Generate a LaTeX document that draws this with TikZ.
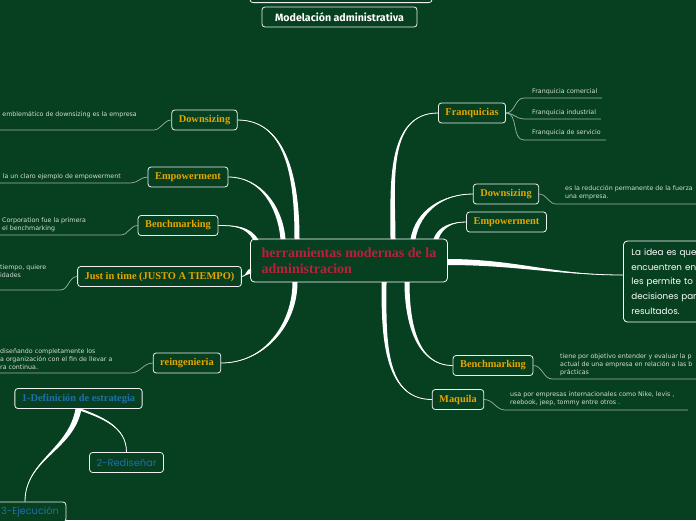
\documentclass[tikz,border=0pt]{standalone}
\usepackage{fontspec}
\setmainfont{Liberation Serif}
\newfontfamily\leaffont{DejaVu Sans}
\newfontfamily\tagfont{Fira Sans}
\newfontfamily\handfont{Poppins}
\usetikzlibrary{calc}

\definecolor{boardG}{HTML}{064020}
\definecolor{goldT}{HTML}{E6A500}
\definecolor{crimT}{HTML}{BE1E3C}
\definecolor{blueT}{HTML}{1F6FAE}
\definecolor{leafT}{HTML}{D6DCD6}
\definecolor{twigC}{HTML}{9DB3A5}

% tapered branch: start, end, out, in, half width
\newcommand{\limb}[5]{%
  \fill[limb] ($(#1)+(#5)$) to[out=#3,in=#4] (#2)
    to[out=#4,in=#3] ($(#1)-(#5)$) -- cycle;
  \draw[limb,line width=0.8pt] (#1) to[out=#3,in=#4] (#2);}

\begin{document}
\begin{tikzpicture}
  [x=1pt,y=-1pt,
   topicN/.style={draw=white!88!gray,line width=0.8pt,rounded corners=3pt,
     fill=boardG,text=goldT,font=\bfseries\fontsize{10.4}{12}\selectfont,
     minimum height=20pt,inner xsep=7pt,inner ysep=0pt},
   stepN/.style={topicN,text=blueT},
   handN/.style={topicN,text=blueT,font=\handfont\fontsize{9.8}{11}\selectfont},
   hubN/.style={draw=white,line width=0.8pt,rounded corners=4pt,fill=boardG,
     text=crimT,font=\bfseries\fontsize{14}{15.5}\selectfont,align=left,
     minimum width=197pt,inner xsep=8pt,minimum height=43pt},
   leafN/.style={text=leafT,font=\leaffont\fontsize{6.3}{8}\selectfont,
     align=left,inner sep=0pt},
   twig/.style={draw=twigC,line width=0.7pt},
   limb/.style={white}]

  \fill[boardG] (0,0) rectangle (696,520);
  \useasboundingbox (0,0) rectangle (696,520);
  \clip (0,0) rectangle (696,520);

  % title boxes
  \node[topicN,minimum width=182pt,anchor=south] (top) at (341,3) {};
  \node[topicN,text=white,font=\tagfont\bfseries\fontsize{10.6}{12}\selectfont,
    minimum width=155pt] (model) at (339.5,17) {Modelación administrativa};

  % centre
  \node[hubN] (hub) at (349,260.5) {herramientas modernas de la\\administracion};

  % left topics
  \node[topicN] (dsL) at (204.5,120) {Downsizing};
  \node[topicN] (emL) at (188,177) {Empowerment};
  \node[topicN] (bmL) at (178,225.5) {Benchmarking};
  \node[topicN] (jit) at (159.5,276.5) {Just in time (JUSTO A TIEMPO)};
  \node[topicN] (reL) at (187,363) {reingenieria};

  % right topics
  \node[topicN] (frR) at (472,113) {Franquicias};
  \node[topicN] (dsR) at (506,194) {Downsizing};
  \node[topicN] (emR) at (506.5,222) {Empowerment};
  \node[topicN] (bmR) at (493,365.5) {Benchmarking};
  \node[topicN] (mqR) at (458,399.5) {Maquila};
  \node[draw=white,line width=0.8pt,rounded corners=4pt,fill=boardG,text=white,
    font=\handfont\fontsize{8.8}{14.8}\selectfont,align=left,text width=110pt,
    inner xsep=8pt,minimum height=81pt,anchor=west] (idea) at (623,281.5)
    {La idea es que\\encuentren en\\les permite to\\decisiones par\\resultados.};

  % steps
  \node[stepN] (def) at (78.5,398.5) {1-Definición de estrategia};
  \node[handN] (red) at (126.5,462.5) {2-Rediseñar};
  \node[handN,minimum width=70pt] (eje) at (30,512) {3-Ejecución};

  % leaves
  \node[leafN,anchor=east] (dsLt) at (137,115) {emblemático de downsizing es la empresa};
  \node[leafN,anchor=east] (emLt) at (121,176.5) {la un claro ejemplo de empowerment};
  \node[leafN,anchor=west] (bmLt) at (2,225) {Corporation fue la primera\\el benchmarking};
  \node[leafN,anchor=west] (jitt) at (0,271) {tiempo, quiere\\idades};
  \node[leafN,anchor=west] (reLt) at (0,359)
    {diseñando completamente los\\a organización con el fin de llevar a\\ra continua.};
  \node[leafN,anchor=west] (fq1) at (532,92) {Franquicia comercial};
  \node[leafN,anchor=west] (fq2) at (532,113) {Franquicia industrial};
  \node[leafN,anchor=west] (fq3) at (532,133) {Franquicia de servicio};
  \node[leafN,anchor=west] (dsRt) at (565,193)
    {es la reducción permanente de la fuerza\\una empresa.};
  \node[leafN,anchor=west] (bmRt) at (560,365)
    {tiene por objetivo entender y evaluar la p\\actual de una empresa en relación a las b\\prácticas};
  \node[leafN,anchor=west] (mqRt) at (510,398.5)
    {usa por empresas internacionales como Nike, levis ,\\reebook, jeep, tommy entre otros .};

  % leaf lines
  \draw[twig] (dsL.west) to[out=180,in=0] ++(-18,10) -- ++(-160,0);
  \draw[twig] (emL.west) to[out=180,in=0] ++(-17,6) -- ++(-140,0);
  \draw[twig] (bmL.west) to[out=180,in=0] ++(-17,9.5) -- ++(-130,0);
  \draw[twig] (jit.west) to[out=180,in=0] ++(-17,13.5) -- ++(-70,0);
  \draw[twig] (reL.west) to[out=180,in=0] ++(-22,10) -- ++(-140,0);
  \draw[twig] (frR.east) to[out=0,in=180] ++(18,-15) -- ++(78,0);
  \draw[twig] (frR.east) to[out=0,in=180] ++(18,6) -- ++(77,0);
  \draw[twig] (frR.east) to[out=0,in=180] ++(18,27) -- ++(82,0);
  \draw[twig] (dsR.east) to[out=0,in=180] ++(17,10) -- ++(150,0);
  \draw[twig] (bmR.east) to[out=0,in=180] ++(19,13.5) -- ++(150,0);
  \draw[twig] (mqR.east) to[out=0,in=180] ++(21,10.5) -- ++(183,0);

  % branches
  \coordinate (hA) at (297,239);
  \coordinate (hB) at (283,239);
  \coordinate (hC) at (256,240);
  \coordinate (hD) at (251,271);
  \coordinate (hE) at (295,282);
  \coordinate (hF) at (393,239);
  \coordinate (hG) at (413,239);
  \coordinate (hH) at (436,239);
  \coordinate (hI) at (447,262);
  \coordinate (hJ) at (407,282);
  \coordinate (hK) at (384,282);

  \limb{hA}{dsL.east}{90}{0}{2.5,0}
  \limb{hB}{emL.east}{95}{0}{2.5,0}
  \limb{hC}{bmL.east}{120}{0}{2.5,0}
  \limb{hD}{jit.east}{180}{0}{0,2.5}
  \limb{hE}{reL.east}{-90}{0}{2.5,0}
  \limb{hF}{frR.west}{90}{180}{2.5,0}
  \limb{hG}{dsR.west}{80}{180}{2.5,0}
  \limb{hH}{emR.west}{70}{180}{2.5,0}
  \limb{hI}{[yshift=6.5pt]idea.west}{0}{180}{0,3}
  \limb{hJ}{bmR.west}{-90}{180}{2.5,0}
  \limb{hK}{mqR.west}{-90}{180}{2.5,0}
  \limb{def.south}{red.north}{-20}{90}{3,0}
  \limb{def.south}{[xshift=-5pt]eje.north}{-100}{90}{3,0}
\end{tikzpicture}
\end{document}
